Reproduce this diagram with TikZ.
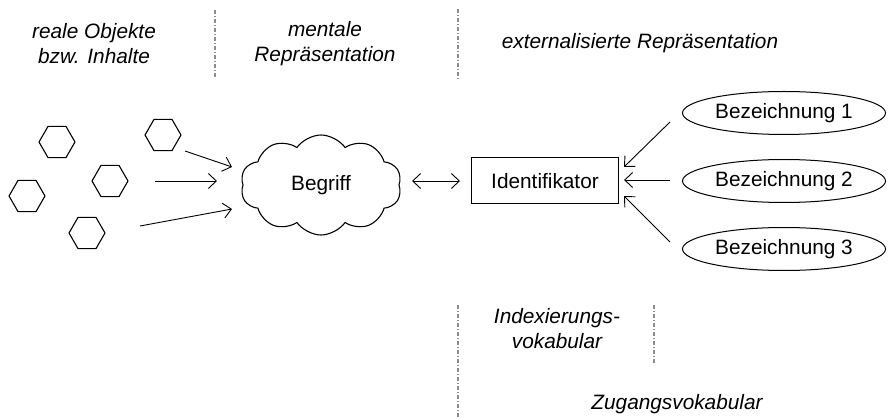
\documentclass[tikz,border=0pt]{standalone}
\usepackage{fontspec}
\setmainfont{Liberation Sans}
\usetikzlibrary{shapes.geometric,shapes.symbols,arrows.meta}
\begin{document}
\begin{tikzpicture}[x=1pt,y=-1pt,
  every node/.style={font=\fontsize{20.8}{25}\selectfont},
  hexa/.style={draw, line width=1.1pt, regular polygon, regular polygon sides=6,
    minimum size=36pt, inner sep=0pt},
  bez/.style={draw, line width=1pt, ellipse, minimum width=203pt, minimum height=43pt, inner sep=0pt},
  head/.style={font=\fontsize{20.8}{25}\selectfont\itshape, align=center},
  arr/.style={line width=0.9pt, -{Straight Barb[length=8pt,width=15pt,line width=0.9pt]}},
  darr/.style={line width=0.9pt, {Straight Barb[length=8pt,width=15pt,line width=0.9pt]}-{Straight Barb[length=8pt,width=15pt,line width=0.9pt]}},
  divider/.style={draw=gray!90, line width=1.1pt, dash pattern=on 4pt off 2pt on 1pt off 2pt}]
\useasboundingbox (0,0) rectangle (890,419);

% column headings
\node[head] (hReal) at (94,44) {reale Objekte\\bzw. Inhalte};
\node[head] (hMental) at (325,44) {mentale\\Repräsentation};
\node[head] (hExt) at (640,43) {externalisierte Repräsentation};
\node[head] (hIdx) at (557,329) {Indexierungs-\\vokabular};
\node[head] (hZug) at (677,404) {Zugangsvokabular};

% dividers
\draw[divider] (215,10) -- (215,78);
\draw[divider] (458,9) -- (458,79);
\draw[divider] (458,305) -- (458,419);
\draw[divider] (654,305) -- (654,365);

% real objects
\node[hexa] (h1) at (57,142) {};
\node[hexa] (h2) at (163,135) {};
\node[hexa] (h3) at (110,181) {};
\node[hexa] (h4) at (27,196) {};
\node[hexa] (h5) at (87,233) {};

% concept
\node[draw, line width=1.1pt, cloud, cloud puffs=10, cloud puff arc=110, aspect=1.6,
  minimum width=161pt, minimum height=100pt, inner sep=0pt] (begriff) at (321,185) {Begriff};

% identifier and designations
\node[draw, line width=1pt, minimum width=147pt, minimum height=46pt, inner sep=0pt] (id) at (545,181) {Identifikator};
\node[bez] (b1) at (784,113) {Bezeichnung 1};
\node[bez] (b2) at (784,181) {Bezeichnung 2};
\node[bez] (b3) at (784,249) {Bezeichnung 3};

% connector ends
\coordinate (o1) at (185,151);
\coordinate (o2) at (155,181);
\coordinate (o3) at (140,226);
\coordinate (c1) at (232,167);
\coordinate (c2) at (217,181);
\coordinate (c3) at (232,209);
\coordinate (cr) at (412,181);
\coordinate (il) at (460,181);
\coordinate (e1) at (670,122);
\coordinate (e2) at (670,180);
\coordinate (e3) at (670,242);
\coordinate (i1) at (624,167);
\coordinate (i2) at (624,180);
\coordinate (i3) at (624,196);

\draw[arr] (o1) -- (c1);
\draw[arr] (o2) -- (c2);
\draw[arr] (o3) -- (c3);
\draw[darr] (cr) -- (il);
\draw[arr] (e1) -- (i1);
\draw[arr] (e2) -- (i2);
\draw[arr] (e3) -- (i3);
\end{tikzpicture}
\end{document}
